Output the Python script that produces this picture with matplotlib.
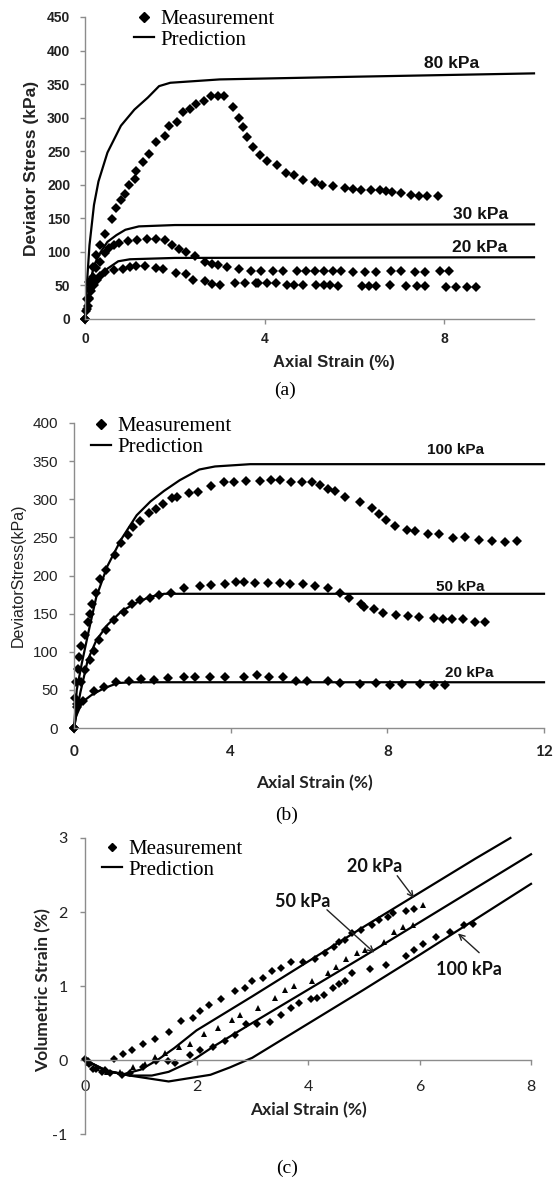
import matplotlib
matplotlib.use("Agg")
import matplotlib.pyplot as plt
from matplotlib.lines import Line2D

plt.rcParams["axes.unicode_minus"] = False

# ---------------- Panel (a) data ----------------
a_pred80_x = [0, 0.05, 0.1, 0.2, 0.3, 0.5, 0.8, 1.1, 1.4, 1.65, 1.9, 3.0, 6.0, 10.0]
a_pred80_y = [0, 60, 110, 170, 205, 248, 288, 312, 330, 347, 352, 357, 361, 366]
a_pred30_x = [0, 0.1, 0.2, 0.35, 0.5, 0.7, 0.9, 1.2, 2.0, 10.0]
a_pred30_y = [0, 50, 80, 100, 115, 125, 133, 138, 140, 141]
a_pred20_x = [0, 0.1, 0.26, 0.5, 0.74, 1.0, 2.0, 10.0]
a_pred20_y = [0, 35, 58, 75, 86, 89, 91, 92]

a_m80_x = [0, 0.05, 0.1, 0.17, 0.25, 0.34, 0.45, 0.6, 0.69, 0.8, 0.88, 0.98, 1.12, 1.14,
           1.3, 1.42, 1.59, 1.78, 1.86, 2.04, 2.19, 2.33, 2.48, 2.64, 2.81, 2.97, 3.09,
           3.29, 3.43, 3.53, 3.61, 3.74, 3.89, 4.05, 4.27, 4.47, 4.66, 4.85, 5.12, 5.27,
           5.52, 5.78, 5.96, 6.14, 6.36, 6.56, 6.7, 6.84, 7.04, 7.26, 7.43, 7.61, 7.87]
a_m80_y = [0, 30, 55, 78, 96, 110, 127, 149, 165, 177, 187, 199, 209, 220,
           234, 246, 264, 272, 287, 294, 308, 313, 320, 325, 333, 333, 333,
           316, 299, 286, 271, 256, 244, 236, 229, 218, 214, 207, 204, 200,
           198, 195, 193, 192, 192, 192, 190, 189, 188, 185, 184, 184, 184]
a_m30_x = [0, 0.04, 0.08, 0.12, 0.17, 0.25, 0.33, 0.44, 0.54, 0.65, 0.76, 0.96, 1.16, 1.38,
           1.58, 1.79, 1.94, 2.1, 2.25, 2.44, 2.67, 2.83, 2.96, 3.16, 3.43, 3.69, 3.91,
           4.19, 4.41, 4.73, 4.92, 5.12, 5.32, 5.52, 5.71, 5.96, 6.24, 6.49, 6.82, 7.04,
           7.35, 7.58, 7.9, 8.11]
a_m30_y = [0, 15, 30, 45, 62, 76, 85, 98, 106, 110, 113, 116, 118, 119,
           119, 117, 111, 104, 100, 94, 85, 82, 80, 78, 74, 72, 72,
           72, 72, 72, 72, 71, 71, 71, 71, 70, 70, 70, 71, 71,
           70, 70, 72, 71]
a_m20_x = [0, 0.03, 0.06, 0.1, 0.14, 0.2, 0.26, 0.33, 0.45, 0.65, 0.84, 1.0, 1.14, 1.34,
           1.59, 1.74, 2.03, 2.25, 2.41, 2.67, 2.83, 3.01, 3.33, 3.57, 3.81, 3.86, 4.05,
           4.26, 4.49, 4.66, 4.85, 5.14, 5.32, 5.46, 5.64, 6.16, 6.32, 6.49, 6.8, 7.16,
           7.39, 7.58, 8.03, 8.27, 8.51, 8.71]
a_m20_y = [0, 12, 20, 31, 41, 50, 58, 64, 70, 73, 75, 78, 79, 79,
           76, 74, 69, 67, 58, 57, 52, 51, 53, 53, 54, 54, 53,
           53, 51, 51, 51, 51, 51, 50, 49, 49, 49, 49, 50, 49,
           49, 49, 48, 47, 47, 47]

# ---------------- Panel (b) data ----------------
b_pred100_x = [0, 0.07, 0.2, 0.4, 0.57, 0.85, 1.2, 1.6, 1.95, 2.3, 2.7, 3.2, 3.6, 4.5, 12.0]
b_pred100_y = [0, 50, 85, 133, 172, 212, 247, 279, 297, 311, 325, 339, 343, 346, 346]
b_pred50_x = [0, 0.16, 0.35, 0.57, 0.85, 1.21, 1.58, 1.94, 2.3, 12.0]
b_pred50_y = [0, 46, 89, 115, 135, 153, 164, 172, 176, 176]
b_pred20_x = [0, 0.05, 0.21, 0.44, 0.76, 1.12, 1.5, 12.0]
b_pred20_y = [0, 15, 34, 43, 52, 59, 60, 60]

b_m100_x = [0, 0.03, 0.06, 0.1, 0.14, 0.19, 0.28, 0.35, 0.41, 0.46, 0.56, 0.66, 0.82, 1.05,
            1.21, 1.38, 1.51, 1.69, 1.92, 2.1, 2.26, 2.49, 2.62, 2.94, 3.17, 3.49, 3.83,
            4.08, 4.38, 4.76, 5.04, 5.26, 5.54, 5.83, 6.07, 6.29, 6.49, 6.66, 6.93, 7.3,
            7.61, 7.79, 7.97, 8.2, 8.5, 8.7, 9.04, 9.32, 9.68, 9.98, 10.34, 10.68, 11.0, 11.32]
b_m100_y = [0, 40, 60, 77, 93, 107, 122, 139, 150, 163, 177, 195, 207, 227,
            242, 253, 264, 272, 282, 287, 294, 301, 303, 308, 310, 317, 323,
            323, 324, 324, 325, 325, 323, 322, 322, 319, 314, 311, 303, 297,
            289, 281, 273, 265, 260, 258, 254, 254, 249, 251, 247, 245, 244, 245]
b_m50_x = [0, 0.07, 0.18, 0.28, 0.41, 0.5, 0.65, 0.81, 1.03, 1.28, 1.47, 1.69, 1.94, 2.17,
           2.47, 2.8, 3.21, 3.5, 3.85, 4.13, 4.35, 4.63, 4.95, 5.26, 5.51, 5.84, 6.15,
           6.48, 6.79, 7.02, 7.33, 7.4, 7.66, 7.89, 8.21, 8.52, 8.82, 9.18, 9.43, 9.64,
           9.94, 10.25, 10.5]
b_m50_y = [0, 32, 60, 76, 89, 101, 115, 129, 142, 152, 162, 168, 171, 174,
           177, 183, 186, 188, 189, 191, 191, 190, 190, 190, 189, 189, 186,
           183, 177, 170, 163, 159, 156, 151, 148, 147, 145, 144, 143, 143,
           143, 139, 139]
b_m20_x = [0, 0.07, 0.23, 0.5, 0.76, 1.07, 1.41, 1.71, 2.05, 2.4, 2.8, 3.08, 3.46, 3.85,
           4.35, 4.67, 4.99, 5.33, 5.66, 5.95, 6.48, 6.79, 7.3, 7.7, 8.06, 8.38, 8.83,
           9.18, 9.48]
b_m20_y = [0, 28, 35, 49, 54, 60, 62, 64, 63, 65, 67, 67, 67, 67,
           67, 70, 67, 67, 61, 62, 61, 59, 58, 59, 56, 58, 58,
           56, 56]

# ---------------- Panel (c) data ----------------
c_pred20_x = [0, 0.35, 0.7, 1.0, 1.3, 1.6, 2.0, 3.0, 4.0, 5.0, 6.0, 7.0, 7.63]
c_pred20_y = [0, -0.14, -0.19, -0.13, 0.0, 0.16, 0.4, 0.86, 1.33, 1.8, 2.26, 2.72, 3.0]
c_pred50_x = [0, 0.4, 0.8, 1.2, 1.5, 1.9, 2.3, 3.0, 4.0, 5.0, 6.0, 7.0, 8.0]
c_pred50_y = [0, -0.15, -0.21, -0.21, -0.16, -0.02, 0.18, 0.5, 0.95, 1.4, 1.86, 2.32, 2.78]
c_pred100_x = [0, 0.4, 0.8, 1.5, 2.25, 2.6, 3.0, 3.5, 4.0, 5.0, 6.0, 7.0, 8.0]
c_pred100_y = [0, -0.15, -0.21, -0.29, -0.2, -0.1, 0.03, 0.26, 0.49, 0.95, 1.42, 1.9, 2.38]

c_m20_x = [0, 0.08, 0.2, 0.35, 0.52, 0.69, 0.85, 1.04, 1.25, 1.5, 1.72, 1.94, 2.07, 2.23,
           2.44, 2.69, 2.87, 3.0, 3.19, 3.35, 3.51, 3.7, 3.91, 4.12, 4.31, 4.47, 4.56,
           4.66, 4.79, 4.95, 5.14, 5.27, 5.43, 5.52, 5.75, 5.9]
c_m20_y = [0.01, -0.06, -0.12, -0.14, 0.01, 0.08, 0.13, 0.22, 0.28, 0.38, 0.53, 0.57, 0.66, 0.74,
           0.83, 0.93, 0.97, 1.07, 1.11, 1.2, 1.25, 1.32, 1.32, 1.36, 1.44, 1.53, 1.59,
           1.62, 1.71, 1.76, 1.82, 1.89, 1.93, 1.98, 2.02, 2.04]
c_m50_x = [0.08, 0.21, 0.4, 0.63, 0.86, 1.08, 1.25, 1.43, 1.68, 1.88, 2.13, 2.39, 2.64, 2.78,
           3.1, 3.4, 3.59, 3.74, 4.08, 4.36, 4.51, 4.68, 4.87, 5.02, 5.36, 5.55, 5.7,
           5.88, 6.07]
c_m50_y = [-0.04, -0.11, -0.16, -0.16, -0.1, -0.05, 0.04, 0.1, 0.18, 0.22, 0.35, 0.43, 0.54, 0.61,
           0.7, 0.84, 0.94, 1.0, 1.07, 1.17, 1.26, 1.36, 1.44, 1.49, 1.59, 1.73, 1.8,
           1.83, 2.09]
c_m100_x = [0.05, 0.15, 0.3, 0.45, 0.66, 0.8, 1.04, 1.27, 1.48, 1.62, 1.88, 2.07, 2.3, 2.52,
            2.69, 2.89, 3.09, 3.32, 3.51, 3.7, 3.83, 4.05, 4.17, 4.29, 4.44, 4.55, 4.66,
            4.79, 5.11, 5.4, 5.75, 5.91, 6.07, 6.29, 6.55, 6.8, 6.96]
c_m100_y = [-0.02, -0.12, -0.16, -0.18, -0.2, -0.17, -0.09, -0.02, -0.02, -0.04, 0.07, 0.13, 0.17, 0.26,
            0.34, 0.49, 0.49, 0.52, 0.61, 0.7, 0.77, 0.82, 0.84, 0.88, 0.97, 1.03, 1.07,
            1.17, 1.23, 1.29, 1.41, 1.48, 1.57, 1.66, 1.73, 1.82, 1.84]

a_yticks = [0, 50, 100, 150, 200, 250, 300, 350, 400, 450]
a_xticks = [0, 4, 8]
b_yticks = [0, 50, 100, 150, 200, 250, 300, 350, 400]
b_xticks = [0, 4, 8, 12]
c_yticks = [-1, 0, 1, 2, 3]
c_xticks = [0, 2, 4, 6, 8]

W, H = 560, 1185
fig = plt.figure(figsize=(W / 100, H / 100), dpi=100)

SANS = ["Liberation Sans", "DejaVu Sans"]
NARROW = ["Liberation Sans Narrow", "Liberation Sans", "DejaVu Sans"]
CAL = ["Lato", "Open Sans", "DejaVu Sans"]
SERIF = ["Liberation Serif", "DejaVu Serif"]
GREY = "#8c8c8c"


def ax_rect(left, top, right, bottom):
    return [left / W, 1 - bottom / H, (right - left) / W, (bottom - top) / H]


def style_axes(ax):
    for s in ("top", "right"):
        ax.spines[s].set_visible(False)
    for s in ("left", "bottom"):
        ax.spines[s].set_color(GREY)
        ax.spines[s].set_linewidth(1.0)
    ax.tick_params(colors=GREY, length=3.5, width=1.0, direction="out")


def legend(ax, x0, y0, marker, ms):
    h = [Line2D([], [], marker=marker, ls="none", color="k", ms=ms),
         Line2D([], [], color="k", lw=1.6)]
    ax.legend(h, ["Measurement", "Prediction"], loc="upper left",
              bbox_to_anchor=(x0, y0), frameon=False, borderpad=0, borderaxespad=0,
              handlelength=0.95, handletextpad=0.3, labelspacing=0.05,
              prop={"family": SERIF, "size": 15})


MS = 5.4
LW = 1.6

# ---------------- (a) ----------------
axa = fig.add_axes(ax_rect(85, 17, 534, 319))
style_axes(axa)
for x, y in [(a_pred80_x, a_pred80_y), (a_pred30_x, a_pred30_y), (a_pred20_x, a_pred20_y)]:
    axa.plot(x, y, color="k", lw=LW, clip_on=False)
for x, y in [(a_m80_x, a_m80_y), (a_m30_x, a_m30_y), (a_m20_x, a_m20_y)]:
    axa.plot(x, y, "D", color="k", ms=MS, mew=0, clip_on=False)
axa.set_xlim(0, 10)
axa.set_ylim(0, 450)
axa.set_yticks(a_yticks)
axa.set_xticks(a_xticks)
for lab in axa.get_yticklabels() + axa.get_xticklabels():
    lab.set_fontfamily(SANS)
    lab.set_fontweight("bold")
    lab.set_fontsize(10)
    lab.set_color("#222222")
axa.tick_params(axis="y", pad=7)
axa.tick_params(axis="x", pad=6)
for txt, x, y in [("80 kPa", 8.17, 381), ("30 kPa", 8.8, 155), ("20 kPa", 8.8, 107)]:
    axa.text(x, y, txt, ha="center", va="center", fontsize=12.5, fontweight="bold",
             family=SANS, color="#111111")
legend(axa, 0.109, 1.025, "D", MS)
fig.text(32 / W, 1 - 168 / H, "Deviator Stress (kPa)", rotation=90, ha="center", va="center",
         fontsize=12.5, fontweight="bold", family=SANS, color="#222222")
fig.text(334 / W, 1 - 362 / H, "Axial Strain (%)", ha="center", va="center",
         fontsize=12, fontweight="bold", family=SANS, color="#222222")
fig.text(285 / W, 1 - 390 / H, "(a)", ha="center", va="center", fontsize=14, family=SERIF)

# ---------------- (b) ----------------
axb = fig.add_axes(ax_rect(74, 423, 544, 728))
style_axes(axb)
for x, y in [(b_pred100_x, b_pred100_y), (b_pred50_x, b_pred50_y), (b_pred20_x, b_pred20_y)]:
    axb.plot(x, y, color="k", lw=LW, clip_on=False)
for x, y in [(b_m100_x, b_m100_y), (b_m50_x, b_m50_y), (b_m20_x, b_m20_y)]:
    axb.plot(x, y, "D", color="k", ms=MS, mew=0, clip_on=False)
axb.set_xlim(0, 12)
axb.set_ylim(0, 400)
axb.set_yticks(b_yticks)
axb.set_xticks(b_xticks)
for lab in axb.get_yticklabels():
    lab.set_fontfamily(SANS)
    lab.set_fontsize(11)
    lab.set_color("#222222")
for lab in axb.get_xticklabels():
    lab.set_fontfamily(CAL)
    lab.set_fontweight("bold")
    lab.set_fontsize(11)
    lab.set_color("#222222")
axb.tick_params(axis="y", pad=8)
axb.tick_params(axis="x", pad=9)
for txt, x, y in [("100 kPa", 9.73, 365), ("50 kPa", 9.85, 185), ("20 kPa", 10.08, 72)]:
    axb.text(x, y, txt, ha="center", va="center", fontsize=11, fontweight="bold",
             family=NARROW, color="#111111")
legend(axb, 0.036, 1.02, "D", MS)
fig.text(18 / W, 1 - 575 / H, "DeviatorStress(kPa)", rotation=90, ha="center", va="center",
         fontsize=11.5, family=NARROW, color="#222222")
fig.text(314 / W, 1 - 783 / H, "Axial Strain (%)", ha="center", va="center",
         fontsize=12.5, fontweight="bold", family=CAL, color="#222222")
fig.text(287 / W, 1 - 815 / H, "(b)", ha="center", va="center", fontsize=14, family=SERIF)

# ---------------- (c) ----------------
axc = fig.add_axes(ax_rect(85, 838, 531, 1134))
style_axes(axc)
axc.spines["bottom"].set_position(("data", 0))
for x, y in [(c_pred20_x, c_pred20_y), (c_pred50_x, c_pred50_y), (c_pred100_x, c_pred100_y)]:
    axc.plot(x, y, color="k", lw=LW, clip_on=False)
axc.plot(c_m20_x, c_m20_y, "D", color="k", ms=4.2, mew=0, clip_on=False)
axc.plot(c_m50_x, c_m50_y, "^", color="k", ms=4.6, mew=0, clip_on=False)
axc.plot(c_m100_x, c_m100_y, "D", color="k", ms=4.2, mew=0, clip_on=False)
axc.set_xlim(0, 8)
axc.set_ylim(-1, 3)
axc.set_yticks(c_yticks)
axc.set_xticks(c_xticks)
for lab in axc.get_yticklabels() + axc.get_xticklabels():
    lab.set_fontfamily(CAL)
    lab.set_fontsize(11.5)
    lab.set_color("#222222")
axc.tick_params(axis="y", pad=9)
axc.tick_params(axis="x", pad=11)
for txt, x, y in [("20 kPa", 5.2, 2.61), ("50 kPa", 3.91, 2.14), ("100 kPa", 6.89, 1.22)]:
    axc.text(x, y, txt, ha="center", va="center", fontsize=13, fontweight="bold",
             family=CAL, color="#111111")
for (x0, y0), (x1, y1) in [((5.6, 2.49), (5.9, 2.19)), ((4.34, 2.03), (5.19, 1.45)),
                           ((7.07, 1.45), (6.69, 1.71))]:
    axc.annotate("", xy=(x1, y1), xytext=(x0, y0),
                 arrowprops=dict(arrowstyle="->", color="#222222", lw=1.0,
                                 shrinkA=0, shrinkB=0))
legend(axc, 0.038, 0.995, "D", 4.2)
fig.text(43 / W, 1 - 990 / H, "Volumetric Strain (%)", rotation=90, ha="center", va="center",
         fontsize=12.5, fontweight="bold", family=CAL, color="#222222")
fig.text(308 / W, 1 - 1110 / H, "Axial Strain (%)", ha="center", va="center",
         fontsize=12.5, fontweight="bold", family=CAL, color="#222222")
fig.text(287 / W, 1 - 1168 / H, "(c)", ha="center", va="center", fontsize=14, family=SERIF)

fig.savefig("out.png", dpi=100)
